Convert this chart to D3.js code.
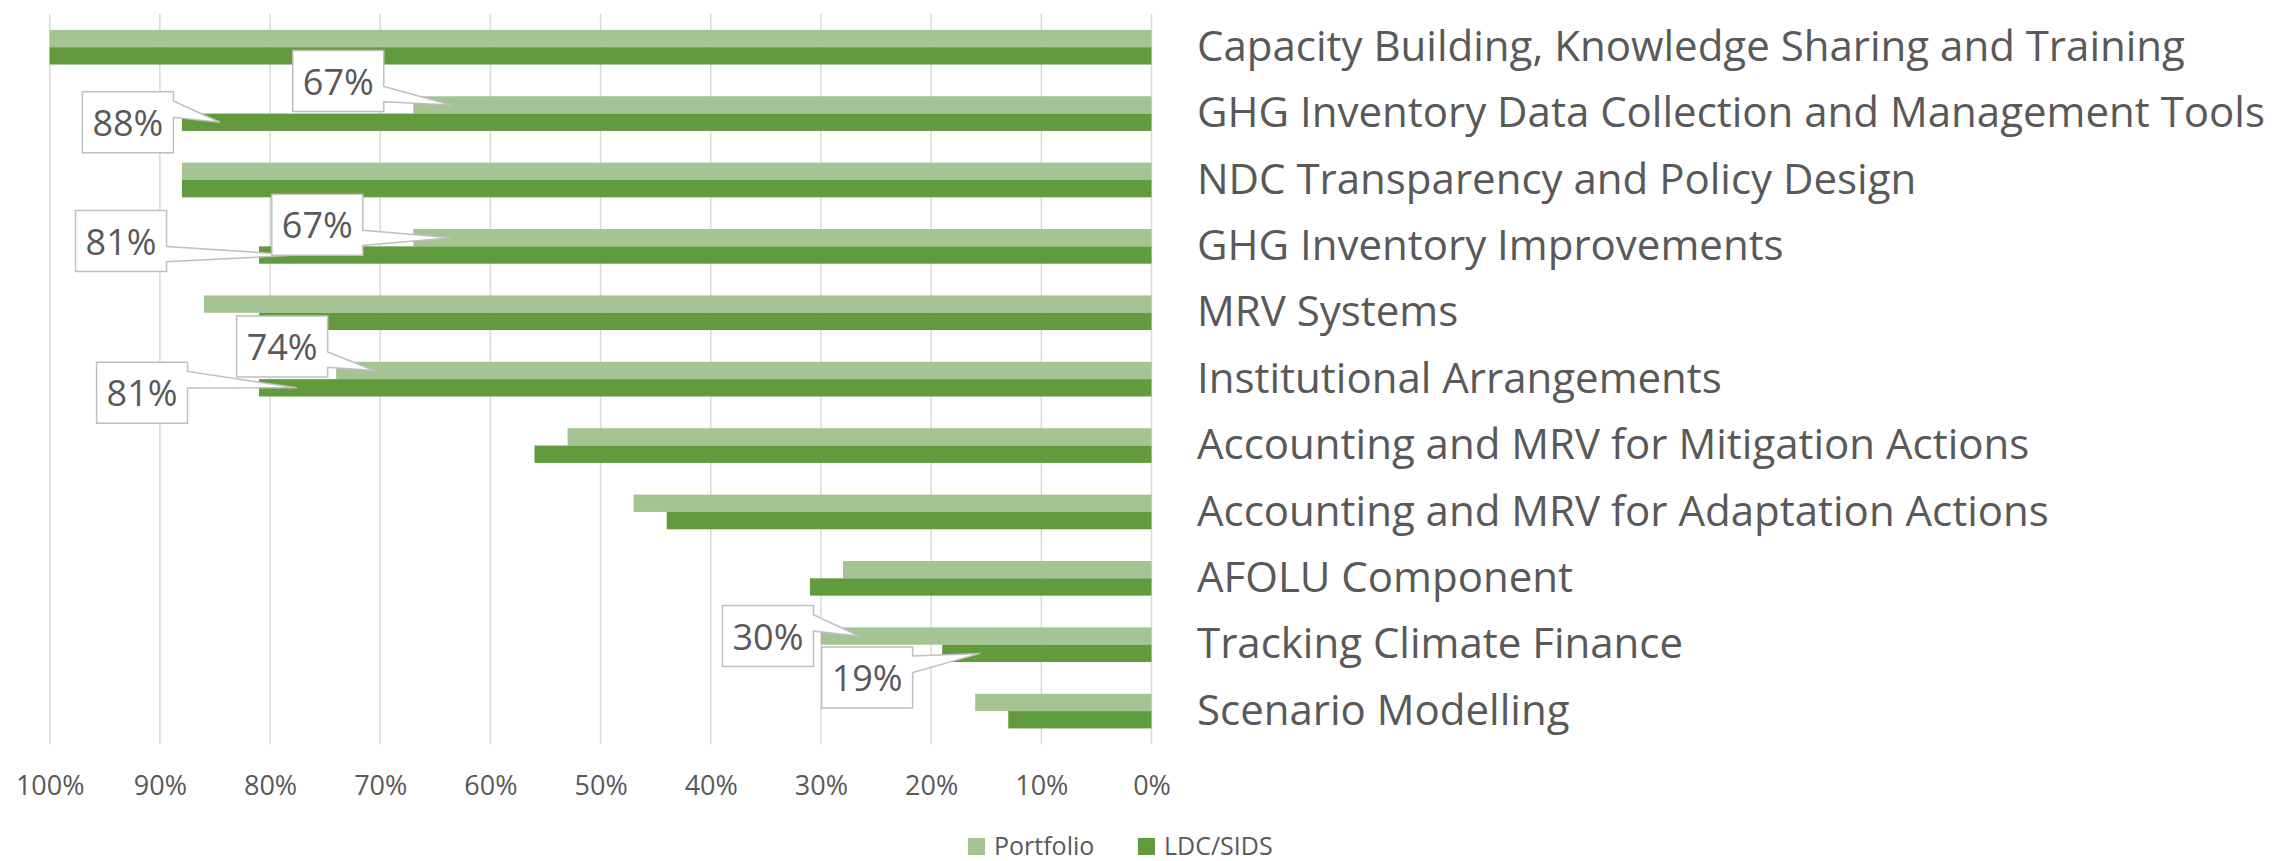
<!DOCTYPE html>
<html>
<head>
<meta charset="utf-8">
<script src="https://cdn.jsdelivr.net/npm/d3@7"></script>
<style>
body { margin: 0; background: #fff; }
svg text { font-family: "Open Sans", sans-serif; fill: #595959; }
</style>
</head>
<body>
<svg id="chart" width="2275" height="861"></svg>
<script>
var categories = [
	"Capacity Building, Knowledge Sharing and Training",
	"GHG Inventory Data Collection and Management Tools",
	"NDC Transparency and Policy Design",
	"GHG Inventory Improvements",
	"MRV Systems",
	"Institutional Arrangements",
	"Accounting and MRV for Mitigation Actions",
	"Accounting and MRV for Adaptation Actions",
	"AFOLU Component",
	"Tracking Climate Finance",
	"Scenario Modelling"
];
var seriesNames = ["Portfolio", "LDC/SIDS"];
var portfolio = [100, 67, 88, 67, 86, 74, 53, 47, 28, 30, 16];
var ldcSids = [100, 88, 88, 81, 81, 81, 56, 44, 31, 19, 13];
var tickValues = [0, 10, 20, 30, 40, 50, 60, 70, 80, 90, 100];
var colors = ["#A4C593", "#629A3E"];

// bars that carry a callout: category index, series index, box offset from the pointer tip
var callouts = [
	{cat: 1, s: 1, dx: -92, dy: 0},
	{cat: 3, s: 1, dx: -176, dy: -14},
	{cat: 5, s: 1, dx: -155, dy: 5},
	{cat: 9, s: 1, dx: -113, dy: 24},
	{cat: 1, s: 0, dx: -113, dy: -24},
	{cat: 3, s: 0, dx: -134, dy: -13},
	{cat: 5, s: 0, dx: -92, dy: -24},
	{cat: 9, s: 0, dx: -91, dy: 0}
];

var svg = d3.select("#chart");
var plotLeft = 49.7, plotRight = 1151.5, plotTop = 14, plotBottom = 744.3;

var series = [portfolio, ldcSids];
var data = categories.map(function (c, i) {
	return {name: c, values: [portfolio[i], ldcSids[i]]};
});

var x = d3.scaleLinear().domain([0, 100]).range([plotRight, plotLeft]);
var y = d3.scaleBand().domain(categories).range([plotTop, plotBottom])
	.paddingInner(0.478).paddingOuter(0.239);
var ySub = d3.scaleBand().domain([0, 1]).range([0, y.bandwidth()]);

// gridlines
svg.append("g")
	.selectAll("line")
	.data(tickValues)
	.enter().append("line")
	.attr("x1", function (d) { return x(d); })
	.attr("x2", function (d) { return x(d); })
	.attr("y1", plotTop)
	.attr("y2", plotBottom)
	.attr("stroke", "#D9D9D9")
	.attr("stroke-width", 1.5);

// x axis labels
var xAxis = svg.append("g")
	.attr("transform", "translate(0," + plotBottom + ")")
	.call(d3.axisBottom(x).tickValues(tickValues).tickSize(0).tickPadding(32)
		.tickFormat(function (d) { return d + "%"; }));
xAxis.select(".domain").remove();
xAxis.selectAll("text")
	.attr("font-size", "27px")
	.style("font-family", "'Open Sans', sans-serif")
	.attr("fill", "#595959");

// bars
var groups = svg.append("g")
	.selectAll("g")
	.data(data)
	.enter().append("g")
	.attr("transform", function (d) { return "translate(0," + y(d.name) + ")"; });

groups.selectAll("rect")
	.data(function (d) { return d.values; })
	.enter().append("rect")
	.attr("x", function (d) { return x(d); })
	.attr("y", function (d, i) { return ySub(i); })
	.attr("width", function (d) { return x(0) - x(d); })
	.attr("height", ySub.bandwidth())
	.attr("fill", function (d, i) { return colors[i]; });

// category labels
svg.append("g")
	.selectAll("text")
	.data(categories)
	.enter().append("text")
	.attr("x", 1197)
	.attr("y", function (d) { return y(d) + y.bandwidth() / 2 - 1; })
	.attr("dy", "0.35em")
	.attr("font-size", "42px")
	.text(function (d) { return d; });

// callouts
var boxW = 91, boxH = 61;
var cg = svg.append("g")
	.selectAll("g")
	.data(callouts)
	.enter().append("g");

cg.each(function (c) {
	var v = series[c.s][c.cat];
	var tx = x(v) + 38;
	var ty = y(categories[c.cat]) + ySub(c.s) + ySub.bandwidth() / 2;
	var cx = tx + c.dx, cy = ty + c.dy;
	var l = cx - boxW / 2, r = cx + boxW / 2, t = cy - boxH / 2, b = cy + boxH / 2;
	var b1, b2;
	if (c.dy < -5) {
		b1 = t + 0.59 * boxH; b2 = t + 0.84 * boxH;
	} else {
		b1 = t + 0.15 * boxH; b2 = t + 0.42 * boxH;
	}
	var p = "M" + l + "," + t + "H" + r + "V" + b1 + "L" + tx + "," + ty +
		"L" + r + "," + b2 + "V" + b + "H" + l + "Z";
	var g = d3.select(this);
	g.append("path")
		.attr("d", p)
		.attr("fill", "#fff")
		.attr("stroke", "#BFBFBF")
		.attr("stroke-width", 1.5);
	g.append("text")
		.attr("x", cx)
		.attr("y", cy + 1)
		.attr("dy", "0.35em")
		.attr("text-anchor", "middle")
		.attr("font-size", "36px")
		.text(v + "%");
});

// legend
var legend = svg.append("g")
	.attr("transform", "translate(968,846)");
var lx = [0, 170];
seriesNames.forEach(function (n, i) {
	legend.append("rect")
		.attr("x", lx[i])
		.attr("y", -8)
		.attr("width", 17)
		.attr("height", 17)
		.attr("fill", colors[i]);
	legend.append("text")
		.attr("x", lx[i] + 26)
		.attr("y", 0)
		.attr("dy", "0.35em")
		.attr("font-size", "25px")
		.text(n);
});
</script>
</body>
</html>
